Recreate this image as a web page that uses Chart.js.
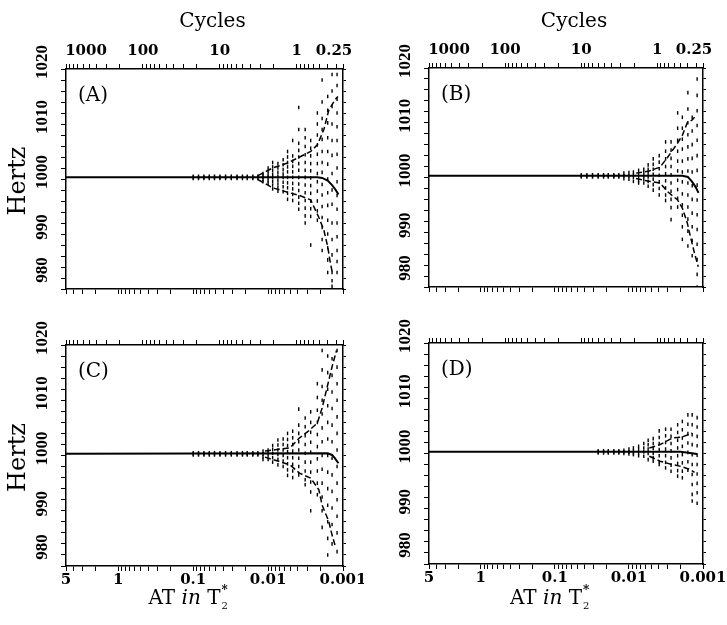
<!DOCTYPE html>
<html>
<head>
<meta charset="utf-8">
<script src="https://cdn.jsdelivr.net/npm/chart.js@4.4.1/dist/chart.umd.min.js"></script>
<style>
  body { margin: 0; background: #fff; }
  canvas { position: absolute; }
</style>
</head>
<body>
<canvas id="chartA" width="364" height="300" style="left:0;top:0"></canvas>
<canvas id="chartB" width="363" height="300" style="left:364px;top:0"></canvas>
<canvas id="chartC" width="364" height="325" style="left:0;top:300px"></canvas>
<canvas id="chartD" width="363" height="325" style="left:364px;top:300px"></canvas>
<script>
// axis ticks
const atMajor = [5, 1, 0.1, 0.01, 0.001];
const atLabels = ["5", "1", "0.1", "0.01", "0.001"];
const cycleMajor = [1000, 100, 10, 1, 0.25];
const cycleLabels = ["1000", "100", "10", "1", "0.25"];
const hzLabels = [980, 990, 1000, 1010, 1020];

// sampling positions (AT in T2*)
const thinAT = [0.1, 0.085, 0.072, 0.061, 0.052, 0.044, 0.037, 0.031, 0.026, 0.022, 0.019, 0.016, 0.0137];
const thinHz = [1000.5, 1000.3, 1000.1];
const colAT = [0.0117, 0.0100, 0.0087, 0.0074, 0.0063, 0.0055, 0.0047, 0.0039, 0.0032, 0.0027, 0.0022, 0.0019, 0.0016, 0.0014, 0.0012];

// panel A
const dotsA = [
  [1001, 1000.6, 1000.3, 999.9, 999.5],
  [1002, 1001.4, 1000.8, 1000.3, 999.7, 999.2],
  [1003, 1002.2, 1001.5, 1000.8, 1000.3, 999.6, 998.9, 998.2],
  [1002.8, 1002, 1001.2, 1000.5, 999.8, 999.1, 998.4, 997.8],
  [1003.5, 1002.6, 1001.7, 1000.9, 1000.3, 999.4, 998.6, 997.7],
  [1005, 1004, 1003, 1002.2, 1001.3, 1000.3, 999.3, 998.4, 997.4, 996.3],
  [1007, 1004.2, 1003.2, 1002.3, 1001.3, 1000.3, 999.2, 998.2, 997.2, 996.1],
  [1013, 1009, 1006.5, 1005.2, 1004, 1002.8, 1001.6, 1000.3, 999.1, 997.9, 996.7, 995.6, 994.5],
  [1009, 1007.5, 1005.9, 1004.4, 1003, 1001.6, 1000.3, 998.9, 997.5, 996.1, 994.7, 993.3, 992],
  [1007, 1005.6, 1004.2, 1002.8, 1001.5, 1000.2, 998.8, 997.4, 996, 994.6, 993.2, 988],
  [1012, 1010, 1008, 1006.2, 1004.5, 1002.8, 1001, 999.5, 997.8, 996, 994.2, 992.5],
  [1018, 1014, 1011, 1009, 1007.2, 1005, 1003, 1001.2, 999, 997.1, 995, 993, 991.2, 989, 987],
  [1015, 1012.5, 1010.2, 1007.5, 1005, 1002.7, 1000, 997.5, 995.2, 992.5, 990, 987.5, 985.3, 983],
  [1019, 1016, 1013.2, 1010, 1007, 1004.3, 1001, 998, 995.4, 992, 989, 986.2, 983, 981.5, 980.5],
  [1019, 1017, 1014.5, 1012, 1009.5, 1007, 1004.5, 1002, 999.5, 997, 994.5, 992, 989.5, 987, 985, 983]
];
const meanXA = [5, 0.0022, 0.0019, 0.0016, 0.0014, 0.00125, 0.00115];
const meanYA = [1000.3, 1000.3, 1000.2, 999.7, 998.9, 998, 997.2];
const upXA = [0.0137, 0.0087, 0.0055, 0.0038, 0.0027, 0.0022, 0.0018, 0.00155, 0.00128, 0.00117];
const upYA = [1000.6, 1002, 1002.9, 1004, 1005, 1006.2, 1009, 1012.5, 1014.4, 1015];
const loXA = [0.0137, 0.0087, 0.0055, 0.0038, 0.0027, 0.0021, 0.0018, 0.0016, 0.0015, 0.00139];
const loYA = [999.9, 998.4, 997.6, 997, 996.2, 993, 990.7, 987.7, 985.3, 983];

// panel B
const dotsB = [
  [1000.8, 1000.3, 999.8],
  [1000.9, 1000.3, 999.7],
  [1001, 1000.5, 1000, 999.3],
  [1001.3, 1000.7, 1000.1, 999.4, 999],
  [1001.5, 1000.9, 1000.3, 999.7, 999],
  [1002.3, 1001.5, 1000.8, 1000.1, 999.3, 998.4],
  [1003.4, 1002.4, 1001.5, 1000.6, 999.7, 998.7, 997.7],
  [1004, 1002.8, 1001.6, 1000.4, 999.2, 998, 996.8],
  [1006.5, 1004.8, 1003.4, 1002, 1000.7, 999.4, 998.1, 996.8, 995.8],
  [1006.5, 1005, 1003.5, 1002, 1000.5, 999, 997.5, 996, 994.5, 992.3],
  [1011.8, 1009, 1006.8, 1004.8, 1003, 1001.2, 999.5, 997.8, 996.2, 994.6],
  [1011, 1009, 1007, 1005.2, 1003, 1001, 999.2, 997, 995, 993.1, 991, 988.7],
  [1015.5, 1012.5, 1010, 1007.8, 1005.6, 1003.4, 1001.2, 999, 996.8, 994.6, 992.4, 990.2, 987.5],
  [1011, 1008.5, 1006, 1003.5, 1001, 998.5, 996, 993.5, 991, 988.5, 985.7],
  [1018, 1015, 1012.2, 1009.5, 1006.8, 1004, 1001.3, 998.6, 995.9, 993.2, 990.5, 987.8, 985, 982.3, 980]
];
const meanXB = [5, 0.0019, 0.0016, 0.0014, 0.00125, 0.00115];
const meanYB = [1000.3, 1000.3, 1000.1, 999.2, 998.2, 997.2];
const upXB = [0.008, 0.0053, 0.0038, 0.003, 0.0022, 0.0019, 0.00163, 0.0014, 0.0013];
const upYB = [1000.8, 1001.2, 1001.9, 1003.7, 1006.3, 1007.7, 1010, 1010.5, 1011];
const loXB = [0.008, 0.0053, 0.0038, 0.003, 0.0022, 0.0019, 0.00163, 0.00152, 0.00131, 0.00116];
const loYB = [999.8, 999.3, 999, 997.4, 995.9, 994.4, 991.7, 989.9, 986.3, 983.7];

// panel C
const dotsC = [
  [1000.8, 1000.3, 999.8, 999.3],
  [1001, 1000.5, 1000, 999.3],
  [1001.8, 1001.1, 1000.4, 999.6, 998.8],
  [1002.8, 1001.9, 1001, 1000.2, 999.3, 998.3],
  [1003, 1002, 1001, 1000, 999, 998],
  [1004, 1002.9, 1001.8, 1000.7, 999.6, 998.5, 997.4, 996.4],
  [1004.4, 1003.2, 1002, 1000.8, 999.6, 998.4, 997.2, 996],
  [1008.4, 1005.5, 1004, 1002.5, 1001, 999.5, 998, 996.5],
  [1006.8, 1005.2, 1003.6, 1002, 1000.4, 998.8, 997.2, 995.6, 994.7],
  [1007.9, 1006, 1004.2, 1002.4, 1000.6, 998.8, 997, 995.2, 993.4, 990],
  [1013, 1010.5, 1008.2, 1006, 1003.8, 1001.6, 999.4, 997.2, 995, 992.9],
  [1019, 1015.5, 1012.5, 1010, 1007.5, 1005, 1002.5, 1000, 997.5, 995, 992.5, 990, 987],
  [1018, 1015, 1012, 1009, 1006, 1003, 1000, 997, 994, 991, 988, 985, 982],
  [1017.5, 1014.5, 1011.5, 1008.5, 1005.5, 1002.5, 999.5, 996.5, 993.5, 990.5, 987.5, 984],
  [1019, 1016, 1013, 1010, 1007, 1004, 1001, 998, 995, 992, 989, 986, 982.6]
];
const meanXC = [5, 0.0016, 0.0014, 0.0013, 0.00115];
const meanYC = [1000.3, 1000.4, 1000.1, 999.6, 998.6];
const upXC = [0.011, 0.0051, 0.0038, 0.0029, 0.0022, 0.0019, 0.0016, 0.00138, 0.00122];
const upYC = [1000.8, 1001.4, 1003.2, 1004.4, 1005.9, 1008.6, 1012.8, 1016.4, 1019];
const loXC = [0.011, 0.0051, 0.0038, 0.0027, 0.0021, 0.0019, 0.00155, 0.0014, 0.00128];
const loYC = [999.7, 998.3, 996.8, 995.9, 993.8, 991, 988.1, 985.6, 983.8];

// panel D
const dotsD = [
  [1000.6, 1000.3, 1000],
  [1000.8, 1000.3, 999.9],
  [1001, 1000.5, 1000, 999.8],
  [1001.3, 1000.7, 1000.1, 999.6],
  [1001.8, 1001, 1000.3, 999.5],
  [1002.4, 1001.6, 1000.8, 1000, 998.9],
  [1002.7, 1001.8, 1000.9, 1000, 999.2, 998.6],
  [1004.1, 1002.9, 1001.8, 1000.7, 999.6, 998.5, 998],
  [1004.4, 1003.2, 1002, 1000.8, 999.6, 998.4, 997.4],
  [1004.4, 1003.1, 1001.8, 1000.5, 999.2, 997.9, 996.8],
  [1005.2, 1003.8, 1002.4, 1001, 999.6, 998.2, 996.9, 995.9],
  [1005.8, 1004.3, 1002.8, 1001.3, 999.8, 998.3, 996.8, 995.6],
  [1007, 1005.3, 1003.6, 1001.9, 1000.2, 998.5, 997],
  [1007, 1005.2, 1003.4, 1001.6, 999.8, 998, 996.2, 994.4, 992.6, 991.4],
  [1006.5, 1004.8, 1003.1, 1001.4, 999.7, 998, 996.3, 994.6, 992.9, 991]
];
const meanXD = [5, 0.002, 0.0015, 0.0012];
const meanYD = [1000.3, 1000.3, 1000.1, 999.9];
const upXD = [0.0053, 0.0038, 0.0026, 0.0019, 0.0014];
const upYD = [1001, 1001.6, 1002.8, 1003, 1003.7];
const loXD = [0.0053, 0.0038, 0.0026, 0.0019, 0.0015, 0.0013];
const loYD = [999.5, 998.6, 998, 997.6, 997.1, 996.6];

const serif = '"DejaVu Serif", serif';

function pts(xs, ys) {
  return xs.map((x, i) => ({ x: x, y: ys[i] }));
}

function dotPts(thinStart, cols) {
  const out = [];
  thinAT.slice(thinStart).forEach(x => thinHz.forEach(y => out.push({ x: x, y: y })));
  colAT.forEach((x, i) => cols[i].forEach(y => out.push({ x: x, y: y })));
  return out;
}

// log tick positions: majors plus 2..9 of each decade
function logTickValues(lo, hi, majors) {
  const vals = majors.slice();
  for (let p = Math.floor(Math.log10(lo)); p <= Math.ceil(Math.log10(hi)); p++) {
    for (let m = 2; m <= 9; m++) {
      const v = +(m * Math.pow(10, p)).toPrecision(6);
      if (v > lo && v < hi) vals.push(v);
    }
  }
  return vals;
}

function labelFor(majors, labels) {
  return value => {
    const i = majors.findIndex(m => Math.abs(m - value) / m < 1e-6);
    return i >= 0 ? labels[i] : "";
  };
}

const panelText = {
  id: "panelText",
  afterDraw(chart, args, o) {
    const { ctx, chartArea: a, scales } = chart;
    ctx.save();
    ctx.fillStyle = "#000";
    ctx.textAlign = "center";
    ctx.textBaseline = "middle";

    // rotated Hertz tick labels
    ctx.font = 'bold 17px "Liberation Serif", serif';
    hzLabels.forEach((v, i) => {
      const py = scales.y.getPixelForValue(v) + (i === 0 ? -19 : -7);
      ctx.save();
      ctx.translate(a.left - 23, py);
      ctx.rotate(-Math.PI / 2);
      ctx.fillText(String(v), 0, 0);
      ctx.restore();
    });

    // panel letter
    ctx.textAlign = "left";
    ctx.font = "20px " + serif;
    ctx.fillText(o.letter, a.left + 12, a.top + 27);

    if (o.hertz) {
      ctx.save();
      ctx.textAlign = "center";
      ctx.font = "24px " + serif;
      ctx.translate(19, (a.top + a.bottom) / 2 + 2);
      ctx.rotate(-Math.PI / 2);
      ctx.fillText("Hertz", 0, 0);
      ctx.restore();
    }

    if (o.cycles) {
      ctx.textAlign = "center";
      ctx.font = "20px " + serif;
      ctx.fillText("Cycles", (a.left + a.right) / 2 + 8, 22);
      // cycle tick labels, end ones pulled inside
      ctx.font = "bold 15px " + serif;
      const shift = [20, 0, 0, 0, -9];
      cycleMajor.forEach((v, i) => {
        ctx.fillText(cycleLabels[i], scales.x2.getPixelForValue(v) + shift[i], a.top - 18);
      });
    }

    if (o.at) {
      const parts = [["AT ", "20px " + serif], ["in", "italic 20px " + serif], [" T", "20px " + serif]];
      let w = 0;
      parts.forEach(p => { ctx.font = p[1]; w += ctx.measureText(p[0]).width; });
      let x = (a.left + a.right) / 2 - 20 - w / 2;
      const base = chart.height - 21;
      ctx.textBaseline = "alphabetic";
      ctx.textAlign = "left";
      parts.forEach(p => {
        ctx.font = p[1];
        ctx.fillText(p[0], x, base);
        x += ctx.measureText(p[0]).width;
      });
      ctx.font = "bold 12px " + serif;
      ctx.fillText("*", x + 1, base - 10);
      ctx.font = "10px " + serif;
      ctx.fillText("2", x + 1, base + 5);
    }
    ctx.restore();
  }
};

function makePanel(id, cfg) {
  const tickGrid = { drawOnChartArea: false, drawTicks: true, tickLength: 5, color: "#000", lineWidth: 1 };
  const border = { display: true, color: "#000", width: 1.5 };
  const atTicks = logTickValues(0.001, 5, atMajor);
  const cycTicks = logTickValues(0.25, 1000, cycleMajor);

  new Chart(document.getElementById(id), {
    type: "scatter",
    data: {
      datasets: [
        { data: pts(cfg.meanX, cfg.meanY), showLine: true, borderColor: "#000", borderWidth: 2, pointRadius: 0, tension: 0 },
        { data: pts(cfg.upX, cfg.upY), showLine: true, borderColor: "#000", borderWidth: 1.5, borderDash: [6, 3], pointRadius: 0, tension: 0 },
        { data: pts(cfg.loX, cfg.loY), showLine: true, borderColor: "#000", borderWidth: 1.5, borderDash: [6, 3], pointRadius: 0, tension: 0 },
        { data: dotPts(cfg.thinStart, cfg.dots), pointStyle: "line", rotation: 90, pointRadius: 1.8, borderColor: "#000", borderWidth: 1.4 }
      ]
    },
    options: {
      responsive: false,
      devicePixelRatio: 1,
      animation: false,
      layout: { padding: { left: 0, top: 0, bottom: 0, right: cfg.padRight } },
      plugins: {
        legend: { display: false },
        tooltip: { enabled: false },
        panelText: { letter: cfg.letter, hertz: cfg.hertz, cycles: cfg.cycles, at: cfg.at }
      },
      scales: {
        x: {
          type: "logarithmic", position: "bottom", reverse: true, min: 0.001, max: 5,
          afterBuildTicks: s => { s.ticks = atTicks.map(v => ({ value: v })); },
          afterFit: s => { s.height = cfg.bottomH; s.paddingLeft = 0; s.paddingRight = 0; },
          ticks: {
            display: cfg.at, autoSkip: false, maxRotation: 0, padding: 0, color: "#000",
            font: { family: serif, size: 15, weight: "bold" },
            callback: labelFor(atMajor, atLabels)
          },
          grid: tickGrid, border: border
        },
        x2: {
          type: "logarithmic", position: "top", reverse: true, min: 0.25, max: 1000,
          afterBuildTicks: s => { s.ticks = cycTicks.map(v => ({ value: v })); },
          afterFit: s => { s.height = cfg.topH; s.paddingLeft = 0; s.paddingRight = 0; },
          ticks: { display: false },
          grid: tickGrid, border: border
        },
        y: {
          type: "linear", position: "left", min: 980, max: 1020,
          afterFit: s => { s.width = cfg.leftW; s.paddingTop = 0; s.paddingBottom = 0; },
          ticks: { display: false, stepSize: 2 },
          grid: tickGrid, border: border
        },
        y2: {
          type: "linear", position: "right", min: 980, max: 1020,
          afterFit: s => { s.width = 5; s.paddingTop = 0; s.paddingBottom = 0; },
          ticks: { display: false, stepSize: 2 },
          grid: Object.assign({}, tickGrid, { tickLength: 3 }), border: border
        }
      }
    },
    plugins: [panelText]
  });
}

makePanel("chartA", {
  letter: "(A)", hertz: true, cycles: true, at: false,
  leftW: 66, topH: 69, bottomH: 11, padRight: 16, thinStart: 0,
  dots: dotsA, meanX: meanXA, meanY: meanYA, upX: upXA, upY: upYA, loX: loXA, loY: loYA
});
makePanel("chartB", {
  letter: "(B)", hertz: false, cycles: true, at: false,
  leftW: 65, topH: 68, bottomH: 13, padRight: 19, thinStart: 5,
  dots: dotsB, meanX: meanXB, meanY: meanYB, upX: upXB, upY: upYB, loX: loXB, loY: loYB
});
makePanel("chartC", {
  letter: "(C)", hertz: true, cycles: false, at: true,
  leftW: 66, topH: 45, bottomH: 59, padRight: 16, thinStart: 0,
  dots: dotsC, meanX: meanXC, meanY: meanYC, upX: upXC, upY: upYC, loX: loXC, loY: loYC
});
makePanel("chartD", {
  letter: "(D)", hertz: false, cycles: false, at: true,
  leftW: 65, topH: 43, bottomH: 61, padRight: 19, thinStart: 8,
  dots: dotsD, meanX: meanXD, meanY: meanYD, upX: upXD, upY: upYD, loX: loXD, loY: loYD
});
</script>
</body>
</html>
